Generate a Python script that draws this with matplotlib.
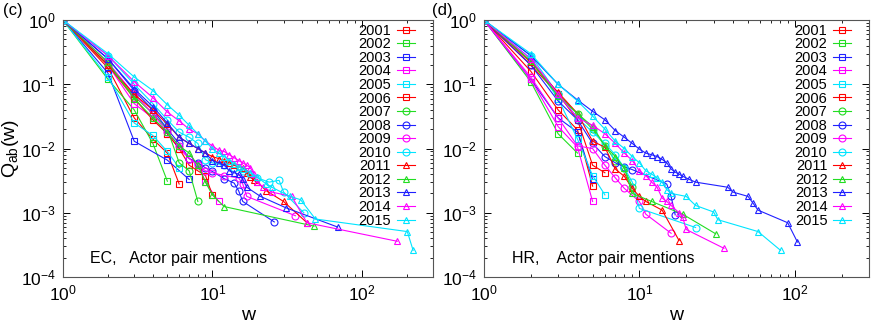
import numpy as np
import matplotlib
matplotlib.use("Agg")
import matplotlib.pyplot as plt

plt.rcParams['font.family'] = ['Liberation Sans', 'DejaVu Sans']
plt.rcParams['mathtext.default'] = 'regular'

years = ['2001', '2002', '2003', '2004', '2005', '2006', '2007', '2008',
         '2009', '2010', '2011', '2012', '2013', '2014', '2015']
colors = ['#ff0000', '#22dd22', '#2020ff', '#ff00ff', '#00e5ff'] * 3
markers = ['s'] * 6 + ['o'] * 4 + ['^'] * 5

# ---- EC, Actor pair mentions (panel c) ----
ec_w01 = [1, 2, 3, 4, 5, 6]
ec_q01 = [1, 0.18, 0.030, 0.014, 0.0085, 0.0028]
ec_w02 = [1, 2, 3, 4, 5]
ec_q02 = [1, 0.12, 0.040, 0.012, 0.0031]
ec_w03 = [1, 2, 3, 5, 7]
ec_q03 = [1, 0.15, 0.013, 0.0066, 0.0033]
ec_w04 = [1, 2, 3, 4, 5, 6, 7, 8, 9, 11]
ec_q04 = [1, 0.20, 0.050, 0.030, 0.017, 0.010, 0.0070, 0.0058, 0.0030, 0.0015]
ec_w05 = [1, 2, 3, 4, 5, 6]
ec_q05 = [1, 0.13, 0.025, 0.016, 0.009, 0.005]
ec_w06 = [1, 2, 3, 4, 5, 6, 7, 8, 9, 10]
ec_q06 = [1, 0.20, 0.060, 0.028, 0.017, 0.010, 0.0055, 0.0045, 0.0038, 0.0019]
ec_w07 = [1, 2, 3, 4, 5, 6, 7, 8]
ec_q07 = [1, 0.20, 0.065, 0.035, 0.020, 0.0060, 0.0045, 0.0015]
ec_w08 = [1, 2, 3, 4, 5, 6, 7, 8, 9, 10, 12, 14, 15, 16, 26]
ec_q08 = [1, 0.25, 0.080, 0.040, 0.020, 0.012, 0.0070, 0.0060, 0.0050, 0.0044,
          0.0034, 0.0029, 0.0022, 0.0015, 0.00072]
ec_w09 = [1, 2, 3, 4, 5, 6, 7, 8, 9, 10, 12, 15, 16, 17, 36]
ec_q09 = [1, 0.22, 0.070, 0.035, 0.018, 0.011, 0.0070, 0.0055, 0.0045, 0.0042,
          0.0038, 0.0035, 0.0028, 0.0018, 0.0009]
ec_w10 = [1, 2, 3, 4, 5, 6, 7, 8, 9, 10, 12, 14, 16, 18, 20, 24, 28, 30, 41]
ec_q10 = [1, 0.28, 0.10, 0.050, 0.028, 0.018, 0.015, 0.012, 0.0067, 0.0060,
          0.0055, 0.0050, 0.0045, 0.0040, 0.0035, 0.0030, 0.0032, 0.0021, 0.0010]
ec_w11 = [1, 2, 3, 4, 5, 6, 7, 8, 9, 10, 11, 12, 13, 14, 15, 16, 17, 18, 19, 20,
          23, 30, 43]
ec_q11 = [1, 0.20, 0.070, 0.040, 0.024, 0.015, 0.012, 0.010, 0.0085, 0.0075,
          0.0070, 0.0065, 0.0060, 0.0055, 0.0052, 0.0050, 0.0042, 0.0036, 0.0032,
          0.0030, 0.0022, 0.0015, 0.0007]
ec_w12 = [1, 2, 3, 4, 5, 6, 7, 8, 9, 10, 12, 48]
ec_q12 = [1, 0.22, 0.060, 0.030, 0.018, 0.011, 0.0085, 0.0055, 0.0030, 0.0019,
          0.00125, 0.00062]
ec_w13 = [1, 2, 3, 4, 5, 6, 7, 8, 9, 10, 11, 12, 13, 14, 15, 16, 17, 21, 31, 69]
ec_q13 = [1, 0.25, 0.085, 0.045, 0.025, 0.015, 0.012, 0.010, 0.0085, 0.0065,
          0.0060, 0.0055, 0.0045, 0.0042, 0.0040, 0.0033, 0.0025, 0.0018, 0.0012,
          0.0006]
ec_w14 = [1, 2, 3, 4, 5, 6, 7, 8, 9, 10, 11, 12, 13, 14, 15, 16, 17, 18, 19, 20,
          22, 25, 34, 43, 173]
ec_q14 = [1, 0.28, 0.11, 0.062, 0.037, 0.027, 0.020, 0.017, 0.013, 0.011,
          0.0095, 0.0090, 0.0080, 0.0072, 0.0065, 0.0060, 0.0055, 0.0050, 0.0040,
          0.0030, 0.0025, 0.0021, 0.0018, 0.0007, 0.00036]
ec_w15 = [1, 2, 3, 4, 5, 6, 7, 8, 9, 10, 11, 12, 13, 14, 15, 16, 18, 20, 23, 25,
          33, 39, 49, 202, 221]
ec_q15 = [1, 0.30, 0.13, 0.080, 0.048, 0.033, 0.023, 0.017, 0.013, 0.010,
          0.0085, 0.0075, 0.0065, 0.0058, 0.0052, 0.0048, 0.0042, 0.0036, 0.0028,
          0.0025, 0.0018, 0.0016, 0.0008, 0.00051, 0.00026]

# ---- HR, Actor pair mentions (panel d) ----
hr_w01 = [1, 2, 3, 4, 5]
hr_q01 = [1, 0.16, 0.040, 0.0195, 0.0026]
hr_w02 = [1, 2, 3, 4]
hr_q02 = [1, 0.11, 0.017, 0.0085]
hr_w03 = [1, 2, 3, 4, 5]
hr_q03 = [1, 0.12, 0.030, 0.018, 0.0033]
hr_w04 = [1, 2, 3, 4, 5]
hr_q04 = [1, 0.12, 0.022, 0.0105, 0.0015]
hr_w05 = [1, 2, 3, 4, 5, 6]
hr_q05 = [1, 0.25, 0.060, 0.014, 0.0038, 0.0019]
hr_w06 = [1, 2, 3, 4, 5, 6]
hr_q06 = [1, 0.20, 0.070, 0.028, 0.0055, 0.0042]
hr_w07 = [1, 2, 3, 4, 5, 6, 7, 8, 9]
hr_q07 = [1, 0.23, 0.070, 0.035, 0.020, 0.011, 0.0065, 0.0050, 0.0025]
hr_w08 = [1, 2, 3, 4, 5, 6, 7, 8, 9, 15, 16, 17]
hr_q08 = [1, 0.20, 0.055, 0.028, 0.012, 0.0075, 0.0060, 0.0052, 0.0047,
          0.0028, 0.0018, 0.00093]
hr_w09 = [1, 2, 3, 4, 5, 6, 7, 8, 10, 11, 16]
hr_q09 = [1, 0.13, 0.030, 0.011, 0.010, 0.0055, 0.0035, 0.0024, 0.0015,
          0.00095, 0.00048]
hr_w10 = [1, 2, 3, 4, 5, 6, 7, 8, 9, 10, 23]
hr_q10 = [1, 0.28, 0.070, 0.030, 0.018, 0.012, 0.0080, 0.0050, 0.0030,
          0.00117, 0.00059]
hr_w11 = [1, 2, 3, 4, 5, 6, 7, 8, 9, 10, 11, 14, 18]
hr_q11 = [1, 0.22, 0.075, 0.035, 0.013, 0.0105, 0.0048, 0.0037, 0.0024,
          0.0018, 0.0015, 0.0011, 0.00037]
hr_w12 = [1, 2, 3, 4, 5, 6, 7, 8, 9, 12, 19, 31]
hr_q12 = [1, 0.23, 0.065, 0.035, 0.022, 0.011, 0.0075, 0.0050, 0.0020,
          0.0015, 0.00095, 0.00047]
hr_w13 = [1, 2, 3, 4, 5, 6, 7, 8, 9, 10, 11, 12, 13, 14, 15, 16, 17, 18, 19,
          21, 23, 37, 40, 50, 54, 58, 90, 104]
hr_q13 = [1, 0.28, 0.10, 0.057, 0.038, 0.028, 0.019, 0.015, 0.012, 0.0098,
          0.0085, 0.0080, 0.0075, 0.0068, 0.0060, 0.0048, 0.0043, 0.0040, 0.0037,
          0.0033, 0.0030, 0.0025, 0.0021, 0.0018, 0.0014, 0.0011, 0.00070, 0.00035]
hr_w14 = [1, 2, 3, 4, 5, 6, 7, 8, 9, 10, 11, 12, 13, 14, 15, 16, 18, 19, 20, 35]
hr_q14 = [1, 0.25, 0.070, 0.030, 0.023, 0.017, 0.012, 0.0085, 0.0065, 0.0045,
          0.0038, 0.0030, 0.0025, 0.0017, 0.0015, 0.0013, 0.0010, 0.00085,
          0.00055, 0.00028]
hr_w15 = [1, 2, 3, 4, 5, 6, 7, 8, 9, 10, 11, 12, 13, 14, 15, 16, 20, 23, 30,
          32, 58, 81]
hr_q15 = [1, 0.30, 0.10, 0.055, 0.032, 0.020, 0.013, 0.010, 0.0075, 0.0060,
          0.0045, 0.0040, 0.0035, 0.0030, 0.0023, 0.0020, 0.0018, 0.0013, 0.00103,
          0.00078, 0.00051, 0.00026]

ec_series = [(ec_w01, ec_q01), (ec_w02, ec_q02), (ec_w03, ec_q03), (ec_w04, ec_q04),
             (ec_w05, ec_q05), (ec_w06, ec_q06), (ec_w07, ec_q07), (ec_w08, ec_q08),
             (ec_w09, ec_q09), (ec_w10, ec_q10), (ec_w11, ec_q11), (ec_w12, ec_q12),
             (ec_w13, ec_q13), (ec_w14, ec_q14), (ec_w15, ec_q15)]
hr_series = [(hr_w01, hr_q01), (hr_w02, hr_q02), (hr_w03, hr_q03), (hr_w04, hr_q04),
             (hr_w05, hr_q05), (hr_w06, hr_q06), (hr_w07, hr_q07), (hr_w08, hr_q08),
             (hr_w09, hr_q09), (hr_w10, hr_q10), (hr_w11, hr_q11), (hr_w12, hr_q12),
             (hr_w13, hr_q13), (hr_w14, hr_q14), (hr_w15, hr_q15)]

fig = plt.figure(figsize=(8.72, 3.24), dpi=100)
ax_c = fig.add_axes([0.0722, 0.145, 0.4243, 0.793])
ax_d = fig.add_axes([0.555, 0.145, 0.4415, 0.793])


def draw_panel(ax, series, note, leg_x):
    for (w, q), yr, c, m in zip(series, years, colors, markers):
        ax.plot(w, q, color=c, marker=m, markersize=5, markerfacecolor='none',
                markeredgecolor=c, markeredgewidth=0.8, linewidth=0.8, label=yr)
    ax.set_xscale('log')
    ax.set_yscale('log')
    ax.set_xlim(1, 300)
    ax.set_ylim(1e-4, 1)
    ax.tick_params(which='both', direction='in', top=True, right=True, labelsize=12.5)
    ax.tick_params(which='major', length=5, width=0.7, pad=5)
    ax.tick_params(which='minor', length=2.5, width=0.6)
    ax.yaxis.set_major_locator(matplotlib.ticker.LogLocator(base=10, numticks=10))
    ax.yaxis.set_minor_locator(matplotlib.ticker.LogLocator(base=10, subs=np.arange(2, 10), numticks=10))
    ax.yaxis.set_minor_formatter(matplotlib.ticker.NullFormatter())
    for s in ax.spines.values():
        s.set_linewidth(0.8)
        s.set_color('#555555')
    ax.set_xlabel('w', fontsize=14, labelpad=2)
    ax.text(0.073, 0.074, note, transform=ax.transAxes, fontsize=11.5, ha='left', va='center')
    ax.legend(loc='upper right', bbox_to_anchor=(leg_x, 1.0), frameon=False,
              markerfirst=False, fontsize=10.5, handlelength=1.25, handletextpad=0.4,
              labelspacing=-0.03, borderpad=0.25, borderaxespad=0.0)


draw_panel(ax_c, ec_series, 'EC,   Actor pair mentions', 0.962)
draw_panel(ax_d, hr_series, 'HR,    Actor pair mentions', 0.964)
ax_c.set_ylabel(r'$Q_{ab}(w)$', fontsize=14, labelpad=0)

fig.text(0.003, 0.99, '(c)', fontsize=12, ha='left', va='top')
fig.text(0.4955, 0.99, '(d)', fontsize=12, ha='left', va='top')

fig.savefig('out.png', dpi=100)
